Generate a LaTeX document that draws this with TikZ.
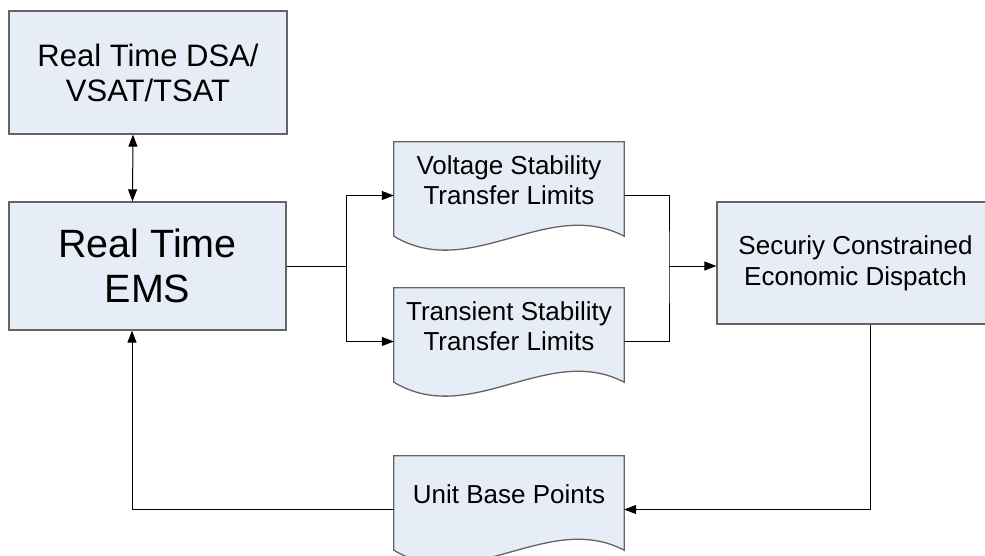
\documentclass[tikz,border=0pt]{standalone}
\usepackage{fontspec}
\setmainfont{Liberation Sans}
\usetikzlibrary{arrows.meta,calc}
\definecolor{boxfill}{RGB}{231,237,247}
\definecolor{boxline}{RGB}{100,100,100}
% outline of a "document" shape: flat top, wavy bottom edge
\newcommand\docoutline[1]{%
  \draw[docline] (#1.north west) -- (#1.north east) -- ([yshift=13pt]#1.south east)
    .. controls +(-76.7,-40) and +(76.7,46) .. ([yshift=13pt]#1.south west) -- cycle;}
\begin{document}
\begin{tikzpicture}[x=1pt,y=-1pt,
  procbox/.style={rectangle, draw=boxline, line width=1.3pt, fill=boxfill,
    inner sep=0pt, align=center},
  docshape/.style={rectangle, minimum width=230pt, minimum height=107pt, inner sep=0pt},
  docline/.style={draw=boxline, line width=1.3pt, fill=boxfill},
  doctext/.style={align=center, inner sep=0pt, font=\fontsize{26}{30}\selectfont},
  link/.style={line width=1pt, draw=black},
  tip/.style={-{Triangle[length=12pt,width=9pt]}},
  twotip/.style={{Triangle[length=12pt,width=9pt]}-{Triangle[length=12pt,width=9pt]}}
]
\useasboundingbox (0,0) rectangle (985,556);

% process boxes
\node[procbox, minimum width=278pt, minimum height=123pt,
      font=\fontsize{31}{35}\selectfont] (dsa) at (148,72.5) {Real Time DSA/\\VSAT/TSAT};
\node[procbox, minimum width=277pt, minimum height=128pt,
      font=\fontsize{39.5}{45}\selectfont] (ems) at (147.5,266) {Real Time\\EMS};
\node[procbox, minimum width=277pt, minimum height=122pt,
      font=\fontsize{26}{31}\selectfont] (sced) at (855.5,263) {Securiy Constrained\\Economic Dispatch};

% document shapes
\node[docshape] (vs) at (509,195.5) {};
\docoutline{vs}
\node[doctext] (vstext) at ([yshift=15.5pt]vs.center) {Voltage Stability\\Transfer Limits};

\node[docshape] (ts) at (509,341.5) {};
\docoutline{ts}
\node[doctext] (tstext) at ([yshift=15.5pt]ts.center) {Transient Stability\\Transfer Limits};

\node[docshape] (ubp) at (509,509.5) {};
\docoutline{ubp}
\node[doctext] (ubptext) at ([yshift=15.5pt]ubp.center) {Unit Base Points};

% junctions
\coordinate (split) at (346,266);
\coordinate (merge) at (669,266);

% connectors
\draw[link, twotip] ([xshift=-15pt]dsa.south) -- ([xshift=-15pt]ems.north);
\draw[link] (ems.east) -- (split);
\draw[link, tip] (split) |- (vs.west);
\draw[link, tip] (split) |- (ts.west);
\draw[link] (vs.east) -| (merge) |- (ts.east);
\draw[link, tip] (merge) -- (merge -| sced.west);
\draw[link, tip] ([xshift=14.5pt]sced.south) |- (ubp.east);
\draw[link, tip] (ubp.west) -| ([xshift=-15.5pt]ems.south);
\end{tikzpicture}
\end{document}
